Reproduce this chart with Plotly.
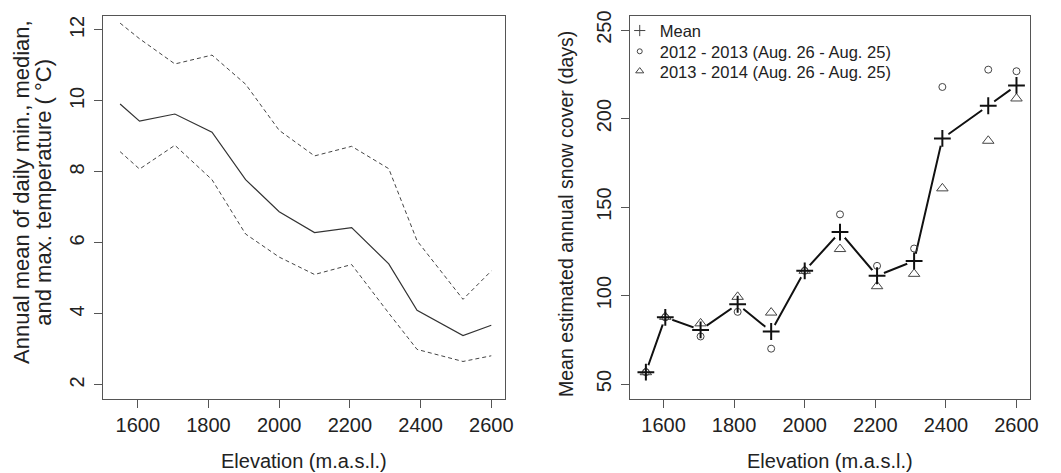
import plotly.graph_objects as go

# Elevation bands (m.a.s.l.)
elevation = [1550, 1605, 1705, 1810, 1905, 2000, 2100, 2205, 2310, 2390, 2520, 2600]

# Left panel: annual mean of daily min / median / max temperature (deg C)
temp_max = [12.19, 11.75, 11.04, 11.29, 10.47, 9.17, 8.45, 8.72, 8.09, 6.06, 4.41, 5.21]
temp_median = [9.91, 9.43, 9.63, 9.12, 7.78, 6.88, 6.29, 6.43, 5.41, 4.10, 3.39, 3.68]
temp_min = [8.57, 8.08, 8.75, 7.78, 6.25, 5.60, 5.11, 5.39, 4.02, 3.00, 2.66, 2.82]

# Right panel: estimated annual snow cover (days)
snow_mean = [56.7, 87.7, 80.6, 95.1, 79.7, 114.0, 135.9, 111.2, 119.6, 188.8, 207.3, 218.8]
snow_2012_2013 = [56.7, 87.7, 76.9, 90.8, 70.0, 114.0, 145.9, 116.8, 126.6, 217.9, 227.7, 226.8]
snow_2013_2014 = [56.7, 88.0, 84.3, 99.3, 90.4, 114.0, 126.3, 105.3, 112.3, 160.6, 187.5, 211.4]

x_ticks = [1600, 1800, 2000, 2200, 2400, 2600]
temp_ticks = [2, 4, 6, 8, 10, 12]
snow_ticks = [50, 100, 150, 200, 250]

# page is 1061x473, the html body keeps its default 8px margin
OFF = 8
W, H = 1061 - OFF, 473 - OFF
FONT = "Liberation Sans, Arial, sans-serif"
TXT = "#222222"
AX = "#555555"


def px_x(p):
    return (p - OFF) / W


def px_y(p):
    return 1 - (p - OFF) / H


fig = go.Figure()

# left panel
dash = dict(color="#444444", width=1, dash="4px,3px")
fig.add_trace(go.Scatter(x=elevation, y=temp_max, mode="lines", xaxis="x", yaxis="y",
                         line=dash, showlegend=False))
fig.add_trace(go.Scatter(x=elevation, y=temp_median, mode="lines", xaxis="x", yaxis="y",
                         line=dict(color="#333333", width=1.2), showlegend=False))
fig.add_trace(go.Scatter(x=elevation, y=temp_min, mode="lines", xaxis="x", yaxis="y",
                         line=dash, showlegend=False))

# right panel: line with gaps at the points (like type="b")
fig.add_trace(go.Scatter(x=elevation, y=snow_mean, mode="lines", xaxis="x2", yaxis="y2",
                         line=dict(color="#111111", width=2), showlegend=False))
fig.add_trace(go.Scatter(x=elevation, y=snow_mean, mode="markers", xaxis="x2", yaxis="y2",
                         marker=dict(symbol="circle", size=15, color="white", line=dict(width=0)),
                         showlegend=False, hoverinfo="skip"))
fig.add_trace(go.Scatter(x=elevation, y=snow_2012_2013, mode="markers", xaxis="x2", yaxis="y2",
                         marker=dict(symbol="circle-open", size=7, color="#444444", line=dict(width=1)),
                         showlegend=False))
fig.add_trace(go.Scatter(x=elevation, y=snow_2013_2014, mode="markers", xaxis="x2", yaxis="y2",
                         marker=dict(symbol="triangle-up-open", size=10, color="#444444", line=dict(width=1)),
                         showlegend=False))
fig.add_trace(go.Scatter(x=elevation, y=snow_mean, mode="markers", xaxis="x2", yaxis="y2",
                         marker=dict(symbol="cross-thin-open", size=12, color="#111111", line=dict(width=2)),
                         showlegend=False))

# legend entries, one legend per row so the spacing matches
legend_rows = [("Mean", "cross-thin-open", 8, 26),
               ("2012 - 2013 (Aug. 26 - Aug. 25)", "circle-open", 5, 47),
               ("2013 - 2014 (Aug. 26 - Aug. 25)", "triangle-up-open", 7, 67)]
legends = {}
for i, (name, sym, sz, row_y) in enumerate(legend_rows):
    key = "legend" if i == 0 else f"legend{i + 1}"
    fig.add_trace(go.Scatter(x=[None], y=[None], mode="markers", name=name, xaxis="x2", yaxis="y2",
                             legend=key,
                             marker=dict(symbol=sym, size=sz, color="#444444", line=dict(width=1))))
    legends[key] = dict(x=px_x(625), y=px_y(row_y), xanchor="left", yanchor="middle",
                        bgcolor="rgba(0,0,0,0)", font=dict(size=16.5, color=TXT, family=FONT),
                        itemwidth=30)

axis_common = dict(showgrid=False, zeroline=False, showline=True, mirror=True,
                   linecolor=AX, linewidth=1, ticks="outside", ticklen=8, tickwidth=1,
                   tickcolor=AX, tickfont=dict(size=20, color=TXT, family=FONT),
                   ticklabeloverflow="allow")

fig.update_layout(
    width=W, height=H,
    margin=dict(l=0, r=0, t=0, b=0),
    paper_bgcolor="white", plot_bgcolor="white",
    font=dict(family=FONT, color=TXT),
    xaxis=dict(domain=[px_x(104.3), px_x(509)], range=[1503, 2638], tickvals=x_ticks,
               anchor="y", ticklabelstandoff=0, **axis_common),
    yaxis=dict(domain=[px_y(398.3), px_y(10.7)], range=[1.60, 12.40], tickvals=temp_ticks,
               anchor="x", tickangle=-90, ticklabelstandoff=2, **axis_common),
    xaxis2=dict(domain=[px_x(635), px_x(1038.7)], range=[1504, 2638], tickvals=x_ticks,
                anchor="y2", ticklabelstandoff=0, **axis_common),
    yaxis2=dict(domain=[px_y(398.3), px_y(10.7)], range=[41.5, 258.2], tickvals=snow_ticks,
                anchor="x2", tickangle=-90, ticklabelstandoff=2, **axis_common),
    **legends,
)

# axis titles
title_font = dict(size=20, color=TXT)
for cx in (306.6, 836.8):
    fig.add_annotation(text="Elevation (m.a.s.l.)", x=px_x(cx), y=px_y(461), xref="paper", yref="paper",
                       xanchor="center", yanchor="middle", showarrow=False, font=title_font)
fig.add_annotation(text="Annual mean of daily min., median,", x=px_x(21), y=px_y(189),
                   xref="paper", yref="paper", xanchor="center", yanchor="middle",
                   textangle=-90, showarrow=False, font=dict(size=22, color=TXT))
fig.add_annotation(text="and max. temperature ( °C)", x=px_x(43), y=px_y(189),
                   xref="paper", yref="paper", xanchor="center", yanchor="middle",
                   textangle=-90, showarrow=False, font=dict(size=22, color=TXT))
fig.add_annotation(text="Mean estimated annual snow cover (days)", x=px_x(571), y=px_y(211),
                   xref="paper", yref="paper", xanchor="center", yanchor="middle",
                   textangle=-90, showarrow=False, font=dict(size=19.5, color=TXT))

fig.write_html("out.html")
